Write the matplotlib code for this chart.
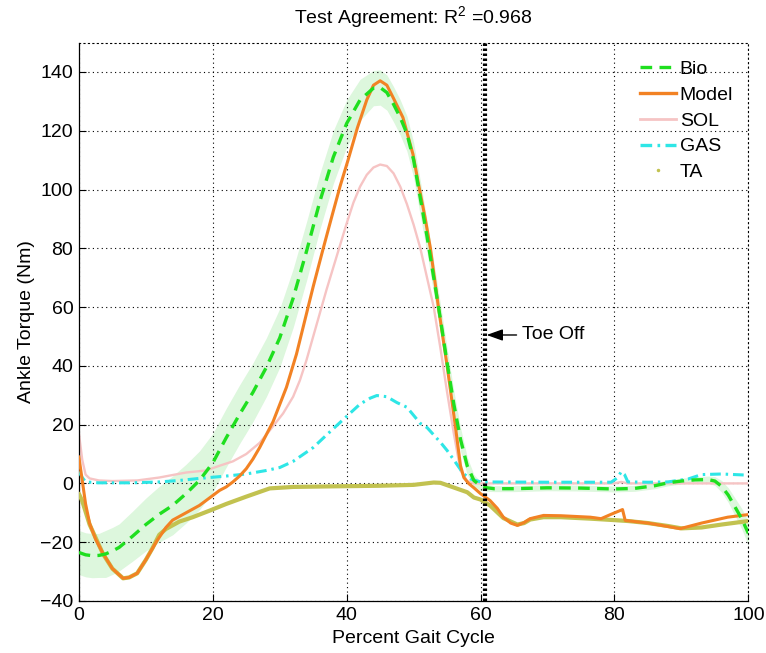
import matplotlib
matplotlib.use("Agg")
import matplotlib.pyplot as plt
from matplotlib.lines import Line2D

plt.rcParams['font.family'] = ['Liberation Sans', 'DejaVu Sans']
plt.rcParams['mathtext.fontset'] = 'custom'
plt.rcParams['mathtext.rm'] = 'Liberation Sans'
plt.rcParams['mathtext.it'] = 'Liberation Sans'

# ---- data (percent gait cycle vs ankle torque, Nm) ----
bio_x = [0, 1, 2, 3, 4, 5, 6, 8, 10, 12, 14, 16, 18, 20, 22, 24, 26, 28, 30, 32,
         34, 36, 38, 40, 42, 44, 45, 46, 47, 48, 49, 50, 51, 52, 53, 54, 55, 56,
         57, 58, 59, 60, 61, 62, 65, 70, 75, 80, 83, 86, 88, 90, 92, 94, 95, 96,
         97, 98, 99, 100]
bio_y = [-23.5, -24.3, -24.6, -24.5, -24, -23, -21.8, -18, -14, -10.5, -7.5, -3.5,
         1, 7, 15.5, 23.5, 31, 39.5, 49.5, 63, 79, 96, 111, 122.5, 130.5, 134.5,
         134.7, 133, 129, 124.5, 119, 110, 97, 84, 70, 56, 41, 27, 15, 6, 1, -0.8,
         -1.5, -1.8, -1.8, -1.5, -1.6, -1.9, -1.7, -0.8, 0.2, 0.8, 1.2, 1.3, 0.8,
         -1, -4, -8, -12, -17]
bio_sd = [7.5, 7.5, 7.5, 7.5, 8, 8, 8, 8.5, 9, 9.5, 10, 10, 10, 10, 10, 10, 10,
          10, 10, 10, 10, 9.5, 9, 8, 7, 6, 6, 6, 6, 6, 6, 6, 6, 5.5, 5.5, 5, 5,
          4.5, 4, 3, 2, 1.5, 1.2, 1, 1, 1, 1, 1, 1, 1, 1, 1, 1, 1.2, 1.5, 2, 2.5,
          3, 3.5, 4]

model_x = [0, 0.5, 1, 1.6, 2.5, 3.6, 5, 6.6, 7.5, 8.7, 10, 11.7, 13, 14, 16, 18,
           19.6, 21, 22, 23, 24, 25, 26, 27, 29, 31, 32.5, 34, 35, 36.5, 37.8, 39,
           40.2, 41.6, 43, 44, 45, 46, 47, 48.4, 49.9, 50.8, 51.7, 52.5, 53.7, 55,
           56.2, 57, 57.5, 58.2, 59, 60, 61.4, 62.5, 63.4, 64.5, 65.5, 66.5, 67.4,
           69.4, 72, 76.4, 78, 79.5, 81.2, 81.6, 85, 89.8, 93, 96.9, 100]
model_y = [9, 1, -7, -13.6, -19, -23.8, -29, -32.3, -32, -30.6, -26, -19.4, -15,
           -12.5, -10, -7.5, -4.8, -2.4, -1.2, 0.5, 2.5, 5, 8.3, 12.2, 21, 32.7,
           44, 57.8, 67, 80, 91, 101, 110, 121, 130.5, 135.5, 137, 135.5, 131,
           124.5, 112, 101, 90.5, 80, 60, 40, 20, 6, 2, 0, -1.5, -3.5, -5.8, -8.5,
           -11.5, -13.5, -14.3, -13.3, -12, -10.9, -11, -11.5, -12, -10.5, -8.9,
           -12.6, -13.5, -15.4, -13.5, -11.5, -10.6]

sol_x = [0, 0.5, 1, 1.6, 3, 5, 8.7, 12, 16, 19, 21, 23, 25, 27, 28.5, 30.5, 32,
         33, 34, 35, 36, 37, 38, 39, 40, 41, 42, 43, 44, 45, 46, 47, 48, 49, 50,
         51, 52, 53, 54, 55, 56, 57, 58, 59, 70, 80, 81, 82, 100]
sol_y = [17, 8, 3, 1.7, 1, 0.8, 1, 2, 3.7, 4.4, 6, 7.5, 10, 13.8, 18, 23.8, 29.5,
         35, 42, 50, 58, 66, 73.5, 81, 88.5, 95.5, 101, 105, 107.5, 108.5, 108,
         105.5, 101, 95, 88, 80, 70, 60, 46, 31, 17, 4.4, 0.8, 0, 0, 0, 0.5, 0, 0]

gas_x = [0, 0.5, 1, 3, 8, 12, 15, 18, 22, 25, 28, 30, 32, 35, 37, 39.8, 42, 43.5,
         44.5, 46, 47.5, 49, 51, 52, 54, 55, 56, 57.4, 58.5, 60, 70, 79.5, 80.5,
         81, 81.5, 82, 85, 88, 91, 93, 96, 100]
gas_y = [4, 2, 0.5, 0.2, 0.2, 0.5, 1, 1.7, 2.5, 3.2, 4.4, 5.4, 7.5, 12.2, 16.5,
         22.4, 27, 29, 29.9, 29.5, 27.5, 25.9, 20.4, 19, 14, 11.2, 8, 3.4, 1.5,
         0.5, 0.4, 0.4, 2, 4, 3, 0.5, 0.4, 0.5, 1.5, 3, 3.2, 2.8]

ta_x = [0, 0.5, 1.6, 3.6, 5, 6.6, 7.5, 8.7, 10, 11, 12, 13, 15, 17, 19.6, 22, 25,
        28.5, 32, 38, 45, 50, 53, 54, 56, 58, 59, 60, 61.4, 63.4, 65.5, 66.5,
        67.4, 69.4, 72, 76.4, 80, 82, 85, 88, 90, 93, 96, 100]
ta_y = [-3.5, -6, -14, -24, -29, -32.3, -32, -30.6, -26, -22, -17.5, -15.5, -13,
        -11.5, -9.2, -7, -4.5, -1.7, -1.2, -1, -0.8, -0.5, 0.3, 0.2, -1.4, -3,
        -4.8, -5.5, -7.5, -11.8, -14, -13.5, -12.3, -11.5, -11.5, -12, -12.5,
        -12.8, -13.5, -14.5, -15.3, -15, -14, -12.8]

toe_off = 60.6
r_squared = 0.968

x_ticks = [0, 20, 40, 60, 80, 100]
y_ticks = [-40, -20, 0, 20, 40, 60, 80, 100, 120, 140]

# ---- colours ----
c_bio = '#1fdf1f'
c_band = '#ddf7dd'
c_model = '#f28224'
c_sol = '#f6c4c4'
c_gas = '#2ee6e6'
c_ta = '#c2c250'

fig = plt.figure(figsize=(7.66, 6.53), dpi=100)
ax = fig.add_axes([0.103, 0.0797, 0.874, 0.8551])

fs = 14

lower = [y - s for y, s in zip(bio_y, bio_sd)]
upper = [y + s for y, s in zip(bio_y, bio_sd)]
ax.fill_between(bio_x, lower, upper, color=c_band, lw=0, zorder=1)

ax.plot(sol_x, sol_y, color=c_sol, lw=1.7, zorder=2)
ax.plot(gas_x, gas_y, color=c_gas, lw=2.2, dashes=(3.5, 1.6, 0.8, 1.6), zorder=3)
ax.plot(ta_x, ta_y, color=c_ta, lw=3.0, zorder=3.5, solid_capstyle='round')
ax.plot(model_x, model_y, color=c_model, lw=2.2, zorder=4)
ax.plot(bio_x, bio_y, color=c_bio, lw=2.4, dashes=(3.5, 2.2), zorder=5)

# toe-off marker
ax.axvline(toe_off, color='black', lw=3.0, ls=(0, (0.6, 0.6)), zorder=6)
ax.annotate('Toe Off', xy=(toe_off + 0.3, 50.5), xytext=(66.2, 50.5),
            fontsize=fs, va='center', ha='left',
            arrowprops=dict(arrowstyle='-|>,head_length=0.7,head_width=0.25',
                            color='black', lw=1.0, shrinkA=2, shrinkB=0))

ax.set_xlim(0, 100)
ax.set_ylim(-40, 150)
ax.set_xticks(x_ticks)
ax.set_yticks(y_ticks)
ax.tick_params(direction='in', length=5, labelsize=fs, width=0.8, pad=4,
               top=False, right=False)
ax.grid(True, color='black', ls=(0, (1, 3)), lw=0.8)
for side in ('top', 'right'):
    ax.spines[side].set_linestyle((0, (1, 3)))
    ax.spines[side].set_linewidth(0.8)
for side in ('left', 'bottom'):
    ax.spines[side].set_linewidth(0.9)

ax.set_xlabel('Percent Gait Cycle', fontsize=fs, labelpad=5)
ax.set_ylabel('Ankle Torque (Nm)', fontsize=fs, labelpad=4)
ax.set_title('Test Agreement: R$^2$ =%.3f' % r_squared, fontsize=fs, pad=14)

handles = [
    Line2D([], [], color=c_bio, lw=2.4, dashes=(3.5, 2.2)),
    Line2D([], [], color=c_model, lw=2.4),
    Line2D([], [], color=c_sol, lw=2.0),
    Line2D([], [], color=c_gas, lw=2.4, dashes=(3.5, 1.6, 0.8, 1.6)),
    Line2D([], [], color=c_ta, ls='none', marker='.', markersize=3),
]
labels = ['Bio', 'Model', 'SOL', 'GAS', 'TA']
ax.legend(handles, labels, loc='upper left', bbox_to_anchor=(0.838, 0.968),
          frameon=False, fontsize=fs, handlelength=1.85, handletextpad=0.2,
          labelspacing=0.42, borderpad=0, borderaxespad=0, numpoints=1)

fig.savefig('out.png', dpi=100)
